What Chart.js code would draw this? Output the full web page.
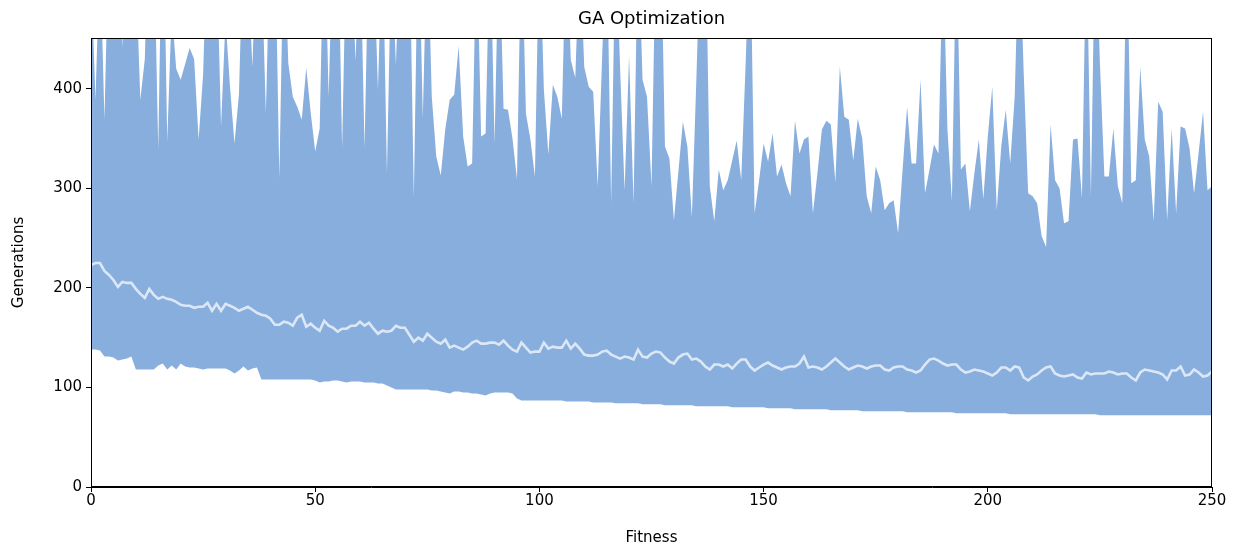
<!DOCTYPE html>
<html>
<head>
<meta charset="utf-8">
<script src="https://cdn.jsdelivr.net/npm/chart.js@4.4.1/dist/chart.umd.min.js"></script>
<style>
  html, body { margin: 0; padding: 0; background: #fff; }
  #wrap { width: 1243px; height: 548px; }
</style>
</head>
<body>
<div id="wrap"><canvas id="gaChart" width="1243" height="548"></canvas></div>
<script>
// max generations per fitness step (values above the axis top are clipped)
const upper = [
  520, 389, 540, 369, 560, 530, 580, 442, 560, 600,
  520, 389, 430, 590, 560, 339, 620, 347, 480, 420,
  409, 425, 441, 430, 349, 414, 560, 580, 540, 362,
  470, 402, 345, 395, 560, 520, 422, 560, 530, 376,
  560, 570, 310, 560, 426, 392, 382, 369, 421, 376,
  337, 360, 580, 392, 560, 590, 340, 560, 540, 428,
  560, 340, 560, 540, 399, 560, 315, 540, 424, 560,
  600, 560, 290, 580, 371, 560, 392, 332, 313, 359,
  389, 394, 443, 352, 322, 325, 560, 352, 355, 560,
  345, 560, 380, 379, 350, 309, 560, 375, 349, 312,
  560, 399, 334, 404, 392, 370, 560, 429, 411, 540,
  422, 402, 397, 302, 433, 560, 285, 560, 420, 298,
  433, 285, 560, 409, 392, 302, 560, 580, 342, 330,
  268, 317, 367, 342, 271, 409, 560, 580, 302, 267,
  319, 298, 308, 328, 348, 308, 426, 560, 275, 308,
  345, 327, 355, 312, 324, 305, 292, 368, 335, 349,
  352, 275, 315, 359, 368, 364, 306, 422, 372, 369,
  328, 370, 350, 292, 275, 322, 308, 278, 285, 288,
  255, 319, 382, 325, 325, 409, 295, 319, 344, 335,
  540, 359, 287, 560, 319, 325, 277, 315, 349, 289,
  352, 402, 278, 342, 379, 325, 392, 560, 417, 295,
  292, 285, 252, 241, 364, 308, 300, 265, 267, 349,
  350, 290, 560, 292, 580, 426, 312, 312, 360, 302,
  285, 560, 305, 308, 422, 349, 332, 267, 387, 377,
  268, 360, 275, 362, 360, 340, 295, 335, 377, 298,
  302
];

// mean generations
const mean = [
  223, 225, 225, 217, 213, 208, 201, 206, 205, 205,
  199, 194, 190, 199, 193, 189, 191, 189, 188, 186,
  183, 182, 182, 180, 181, 181, 185, 177, 184, 177,
  184, 182, 180, 177, 179, 181, 178, 175, 173, 172,
  169, 163, 163, 166, 165, 162, 170, 173, 161, 164,
  160, 157, 167, 162, 160, 156, 159, 159, 162, 162,
  166, 162, 165, 159, 154, 157, 156, 157, 162, 160,
  160, 153, 146, 150, 147, 154, 150, 146, 144, 148,
  140, 142, 140, 138, 141, 145, 147, 144, 144, 145,
  145, 143, 147, 142, 138, 136, 145, 140, 135, 136,
  136, 145, 139, 141, 140, 140, 147, 139, 144, 139,
  133, 132, 132, 133, 136, 137, 133, 131, 129, 131,
  130, 128, 138, 131, 130, 134, 136, 135, 130, 126,
  124, 130, 133, 134, 128, 129, 126, 121, 118, 123,
  123, 121, 123, 119, 124, 128, 128, 121, 117, 120,
  123, 125, 122, 120, 118, 120, 121, 121, 124, 131,
  120, 121, 120, 118, 121, 125, 129, 125, 121, 118,
  120, 122, 121, 119, 121, 122, 122, 118, 117, 120,
  121, 121, 118, 117, 115, 117, 123, 128, 129, 127,
  124, 122, 123, 123, 118, 115, 116, 118, 117, 116,
  114, 112, 115, 120, 120, 117, 121, 120, 110, 107,
  111, 113, 117, 120, 121, 114, 112, 111, 112, 113,
  110, 109, 115, 113, 114, 114, 114, 116, 115, 113,
  114, 114, 110, 107, 115, 118, 117, 116, 115, 113,
  108, 117, 117, 121, 112, 113, 118, 115, 111, 112,
  116
];

// min generations
const lower = [
  138, 138, 137, 131, 131, 130, 127, 128, 129, 131,
  118, 118, 118, 118, 118, 122, 124, 118, 122, 118,
  124, 121, 120, 120, 119, 118, 119, 119, 119, 119,
  119, 117, 114, 117, 121, 117, 119, 120, 108, 108,
  108, 108, 108, 108, 108, 108, 108, 108, 108, 108,
  107, 105, 106, 106, 107, 107, 106, 105, 106, 106,
  106, 105, 105, 105, 104, 104, 102, 100, 98, 98,
  98, 98, 98, 98, 98, 98, 97, 97, 96, 95,
  94, 96, 96, 95, 95, 94, 94, 93, 92, 94,
  95, 95, 95, 95, 94, 89, 87, 87, 87, 87,
  87, 87, 87, 87, 87, 87, 86, 86, 86, 86,
  86, 86, 85, 85, 85, 85, 85, 84, 84, 84,
  84, 84, 84, 83, 83, 83, 83, 83, 82, 82,
  82, 82, 82, 82, 82, 81, 81, 81, 81, 81,
  81, 81, 81, 80, 80, 80, 80, 80, 80, 80,
  80, 79, 79, 79, 79, 79, 79, 78, 78, 78,
  78, 78, 78, 78, 78, 77, 77, 77, 77, 77,
  77, 77, 76, 76, 76, 76, 76, 76, 76, 76,
  76, 76, 75, 75, 75, 75, 75, 75, 75, 75,
  75, 75, 75, 74, 74, 74, 74, 74, 74, 74,
  74, 74, 74, 74, 74, 73, 73, 73, 73, 73,
  73, 73, 73, 73, 73, 73, 73, 73, 73, 73,
  73, 73, 73, 73, 73, 72, 72, 72, 72, 72,
  72, 72, 72, 72, 72, 72, 72, 72, 72, 72,
  72, 72, 72, 72, 72, 72, 72, 72, 72, 72,
  72
];

const fitness = upper.map((_, i) => i);
const xTicks = [0, 50, 100, 150, 200, 250];
const yTicks = [0, 100, 200, 300, 400];

const toPoints = (arr) => arr.map((v, i) => ({ x: fitness[i], y: v }));

const FONT = "'DejaVu Sans', sans-serif";

// matplotlib-like frame + title over the plot area
const framePlugin = {
  id: "frame",
  afterDraw(chart) {
    const { ctx, chartArea: a } = chart;
    ctx.save();
    ctx.strokeStyle = "#000";
    ctx.lineWidth = 1;
    ctx.strokeRect(a.left + 0.5, a.top + 0.5, a.right - a.left - 1, a.bottom - a.top - 1);
    ctx.fillStyle = "#000";
    ctx.font = "18px " + FONT;
    ctx.textAlign = "center";
    ctx.textBaseline = "middle";
    ctx.fillText("GA Optimization", (a.left + a.right) / 2, 19);
    ctx.restore();
  },
};

const ctx = document.getElementById("gaChart").getContext("2d");

new Chart(ctx, {
  type: "line",
  data: {
    datasets: [
      {
        label: "Mean",
        data: toPoints(mean),
        borderColor: "#dce7f6",
        borderWidth: 2.6,
        pointRadius: 0,
        fill: false,
        tension: 0,
      },
      {
        label: "Max",
        data: toPoints(upper),
        borderWidth: 0,
        borderColor: "rgba(0,0,0,0)",
        backgroundColor: "#88aedd",
        pointRadius: 0,
        fill: 2,
        tension: 0,
      },
      {
        label: "Min",
        data: toPoints(lower),
        borderWidth: 0,
        borderColor: "rgba(0,0,0,0)",
        pointRadius: 0,
        fill: false,
        tension: 0,
      },
    ],
  },
  options: {
    responsive: false,
    animation: false,
    devicePixelRatio: 1,
    layout: { padding: { top: 38, right: 31, left: 0, bottom: 0 } },
    plugins: {
      legend: { display: false },
      tooltip: { enabled: false },
      title: { display: false },
    },
    scales: {
      x: {
        type: "linear",
        min: 0,
        max: 250,
        afterBuildTicks: (s) => { s.ticks = xTicks.map((v) => ({ value: v })); },
        afterFit: (s) => { s.height = 61; },
        ticks: { color: "#000", font: { family: FONT, size: 15 }, padding: 0, maxRotation: 0 },
        grid: { drawOnChartArea: false, drawTicks: true, tickLength: 5, color: "#000" },
        border: { display: true, color: "#000" },
        title: { display: true, text: "Fitness", color: "#000", font: { family: FONT, size: 15 }, padding: { top: 0, bottom: 1 } },
      },
      y: {
        type: "linear",
        min: 0,
        max: 451,
        afterBuildTicks: (s) => { s.ticks = yTicks.map((v) => ({ value: v })); },
        afterFit: (s) => { s.width = 91; },
        ticks: { color: "#000", font: { family: FONT, size: 15 }, padding: 4 },
        grid: { drawOnChartArea: false, drawTicks: true, tickLength: 5, color: "#000" },
        border: { display: true, color: "#000" },
        title: { display: true, text: "Generations", color: "#000", font: { family: FONT, size: 15 }, padding: { top: 10, bottom: 0 } },
      },
    },
  },
  plugins: [framePlugin],
});
</script>
</body>
</html>
